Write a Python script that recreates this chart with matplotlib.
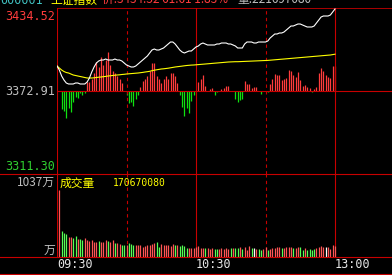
import matplotlib
matplotlib.use("Agg")
import matplotlib.pyplot as plt
from matplotlib.lines import Line2D

# ---- data ----
prev_close = 3372.91
price_top = 3434.52
price_bottom = 3311.30
vol_top = 1037  # 万
vol_total = "170670080"

price = [3391.47, 3388.50, 3384.04, 3381.08, 3378.85, 3378.11, 3378.11, 3378.11, 3378.85, 3378.85,
         3378.11, 3378.11, 3378.11, 3379.59, 3382.56, 3387.01, 3390.73, 3393.69, 3395.18, 3395.92,
         3395.92, 3396.66, 3395.92, 3395.92, 3395.92, 3396.66, 3395.92, 3395.92, 3395.18, 3393.69,
         3392.21, 3391.47, 3390.73, 3390.73, 3391.47, 3392.95, 3394.44, 3395.92, 3397.41, 3398.89,
         3401.12, 3403.34, 3404.09, 3403.34, 3403.34, 3404.09, 3404.83, 3406.31, 3407.80, 3409.28,
         3409.28, 3407.80, 3405.57, 3403.34, 3401.86, 3401.12, 3401.86, 3402.60, 3402.60, 3404.09,
         3405.57, 3406.31, 3407.80, 3408.54, 3407.80, 3407.06, 3407.06, 3407.06, 3407.06, 3407.80,
         3407.80, 3408.54, 3408.54, 3408.54, 3407.80, 3407.80, 3407.06, 3406.31, 3404.83, 3404.83,
         3404.83, 3407.80, 3409.28, 3409.28, 3409.28, 3408.54, 3408.54, 3409.28, 3409.28, 3409.28,
         3409.28, 3410.03, 3412.25, 3413.74, 3415.22, 3415.22, 3415.96, 3415.96, 3416.71, 3418.19,
         3419.67, 3421.16, 3421.16, 3421.90, 3422.64, 3422.64, 3421.90, 3421.16, 3420.42, 3420.42,
         3420.42, 3421.16, 3423.39, 3425.61, 3427.84, 3428.58, 3428.58, 3428.58, 3429.32, 3431.55,
         3433.78]

avg_price = [3391.47, 3389.98, 3388.50, 3387.38, 3386.64, 3386.27, 3385.53, 3384.79, 3384.42, 3384.04,
             3383.67, 3383.30, 3382.93, 3382.56, 3382.56, 3382.56, 3382.71, 3382.93, 3383.15, 3383.30,
             3383.53, 3383.75, 3384.04, 3384.19, 3384.42, 3384.64, 3384.79, 3384.94, 3385.16, 3385.31,
             3385.53, 3385.68, 3385.83, 3385.97, 3386.12, 3386.27, 3386.49, 3386.72, 3387.01, 3387.24,
             3387.53, 3387.98, 3388.35, 3388.65, 3388.94, 3389.24, 3389.39, 3389.61, 3389.83, 3390.13,
             3390.43, 3390.73, 3390.95, 3391.17, 3391.39, 3391.62, 3391.84, 3391.99, 3392.14, 3392.21,
             3392.36, 3392.51, 3392.66, 3392.80, 3392.95, 3393.10, 3393.25, 3393.40, 3393.55, 3393.69,
             3393.84, 3393.99, 3394.14, 3394.29, 3394.44, 3394.51, 3394.59, 3394.66, 3394.66, 3394.73,
             3394.81, 3394.88, 3394.96, 3395.03, 3395.10, 3395.18, 3395.25, 3395.33, 3395.40, 3395.48,
             3395.55, 3395.62, 3395.77, 3395.92, 3396.07, 3396.22, 3396.37, 3396.52, 3396.66, 3396.81,
             3396.96, 3397.11, 3397.26, 3397.41, 3397.56, 3397.70, 3397.85, 3398.00, 3398.15, 3398.30,
             3398.45, 3398.60, 3398.74, 3398.89, 3399.04, 3399.19, 3399.34, 3399.49, 3399.63, 3399.93,
             3400.23]

# red/green lead indicator bars (up positive, down negative)
lead = [0, 0, -18, -20, -27, -17, -21, -11, -6, -7, -2, -4, -2,
        9, 9, 12, 18, 29, 24, 34, 26, 31, 39, 26, 20, 18, 15, 12, 8, 0,
        -4, -12, -11, -15, -8, -4,
        4, 10, 12, 15, 20, 28, 28, 15, 12, 8, 12, 15, 12, 18, 18, 15, 8,
        -4, -16, -25, -17, -22, -10, -4,
        0, 9, 12, 16, 5, 0, 2, 3, -4, -1, 0, 2, 3, 5, 5, 0, 0, -8, -11, -9, -8,
        10, 7, 7, 3, 4, 4, 0, -3, 0, 0, -1,
        7, 12, 17, 16, 16, 11, 12, 13, 21, 20, 16, 14, 19, 11, 5, 6, 4, 3, -1, 2, 4,
        18, 23, 20, 16, 14, 13, 25, 25]

# per-minute volume in 万, and up/down colour code
volume = [837, 325, 300, 287, 250, 250, 237, 262, 225, 225, 212, 237, 212, 200, 212, 187, 187, 200, 187, 187,
          212, 200, 187, 212, 175, 175, 162, 150, 150, 150, 175, 162, 150, 150, 150, 150, 125, 137, 150, 150,
          162, 175, 187, 125, 162, 150, 150, 150, 137, 162, 150, 150, 137, 150, 137, 112, 112, 112, 112, 125,
          137, 112, 112, 112, 112, 100, 112, 100, 100, 100, 112, 100, 112, 100, 112, 112, 112, 112, 125, 100,
          125, 87, 137, 112, 112, 100, 100, 87, 100, 125, 87, 100, 112, 112, 125, 125, 112, 112, 125, 125,
          125, 112, 112, 125, 125, 87, 112, 87, 100, 87, 100, 112, 125, 137, 125, 125, 125, 100, 150, 137]
vol_dir = list("RGGGRRGGRGGRRRRRRGRRRGRRGRRGGRGGGRRRRRRRRRGGRRRRRRGRGGGGRRRR"
               "RRRGRRRGGRRRRRGRGGRGRRRGWRGGRRGRRRRRGRRRRGRRGGRGGGGRRRRWRRRR")

time_labels = ["09:30", "10:30", "13:00"]
time_pos = [0, 60, 120]
grid_solid = [60, 120]
grid_dashed = [30, 90]

# ---- figure ----
W, H = 392, 275
fig = plt.figure(figsize=(W / 100, H / 100), dpi=100, facecolor="black")

RED_LINE = "#c80000"
x0 = 57 / W
span = 556 / W   # whole day (240 min) would reach past the right edge


def fy(py):
    return 1 - py / H


ax_lead = fig.add_axes([x0, fy(174), span, 166 / H])
ax = fig.add_axes([x0, fy(174), span, 166 / H])
ax_vol = fig.add_axes([x0, fy(257), span, 83 / H])

for a in (ax_lead, ax, ax_vol):
    a.set_xlim(0, 240)
    a.axis("off")
ax_lead.set_facecolor("black")
ax.patch.set_alpha(0)

minutes = list(range(len(price)))

# lead bars
ax_lead.set_ylim(-83, 83)
up = [(m, v) for m, v in zip(minutes, lead) if v > 0]
dn = [(m, v) for m, v in zip(minutes, lead) if v < 0]
ax_lead.vlines([m for m, _ in up], 0, [v for _, v in up], color="#ff3c3c", lw=0.9)
ax_lead.vlines([m for m, _ in dn], 0, [v for _, v in dn], color="#10e010", lw=0.9)

# price lines
ax.set_ylim(price_bottom, price_top)
ax.plot(minutes, avg_price, color="#ffff00", lw=0.8, zorder=3)
ax.plot(minutes, price, color="white", lw=0.8, zorder=4)

# volume bars
ax_vol.set_ylim(0, vol_top)
cmap = {"R": "#ff5555", "G": "#55ff55", "W": "#ffffff"}
vx = [m + 1 for m in range(len(volume))]
ax_vol.vlines(vx, 0, volume, color=[cmap[c] for c in vol_dir], lw=0.9)

# grid lines
for a in (ax, ax_vol):
    for g in grid_solid:
        a.axvline(g, color=RED_LINE, lw=0.8, zorder=1)
    for g in grid_dashed:
        a.axvline(g, color=RED_LINE, lw=0.8, ls=(0, (3, 3)), zorder=1)
    a.axvline(0, color=RED_LINE, lw=0.8, zorder=1)
ax.axhline(prev_close, color=RED_LINE, lw=0.8, zorder=1)
ax.axhline(price_top, color=RED_LINE, lw=1.2, zorder=1)

for py in (174, 257, 274):
    fig.add_artist(Line2D([0, 1], [fy(py), fy(py)], transform=fig.transFigure,
                          color=RED_LINE, lw=0.8))

# left scale labels
mono = "DejaVu Sans Mono"
fig.text(55 / W, fy(16), f"{price_top:.2f}", color="#ff3c3c", ha="right", va="center",
         fontsize=8.5, family=mono)
fig.text(55 / W, fy(91.5), f"{prev_close:.2f}", color="#c0c0c0", ha="right", va="center",
         fontsize=8.5, family=mono)
fig.text(55 / W, fy(167), f"{price_bottom:.2f}", color="#30d030", ha="right", va="center",
         fontsize=8.5, family=mono)
cjk = ["Noto Sans CJK SC", "DejaVu Sans Mono"]
fig.text(55 / W, fy(182), f"{vol_top}万", color="#c0c0c0", ha="right", va="center",
         fontsize=8.5, family=cjk)
fig.text(55 / W, fy(250), "万", color="#c0c0c0", ha="right", va="center",
         fontsize=8.5, family=cjk)

fig.text(60 / W, fy(183), "成交量", color="#ffff00", ha="left", va="center",
         fontsize=8.5, family=cjk)
fig.text(113 / W, fy(183), vol_total, color="#ffff00", ha="left", va="center",
         fontsize=7, family=mono)

# time labels
for lab, pos in zip(time_labels, time_pos):
    ax_vol.text(pos, -0.096, lab, transform=ax_vol.get_xaxis_transform(), color="#e8e8e8",
                ha="left", va="center", fontsize=8.5, family=mono)

# header, mostly cut off by the top edge as in the screenshot
hy = fy(3.5)
fig.text(0, hy, "000001", color="#40c0c0", ha="left", va="baseline", fontsize=8.5, family=mono)
fig.text(50 / W, hy, "上证指数", color="#ffff00", ha="left", va="baseline", fontsize=8.5, family=cjk)
fig.text(102 / W, hy, "价:3434.52 61.61 1.83%", color="#ff3c3c", ha="left", va="baseline",
         fontsize=8.5, family=cjk)
fig.text(237 / W, hy, "量:221697080", color="#c0c0c0", ha="left", va="baseline",
         fontsize=8.5, family=cjk)

fig.savefig("out.png", dpi=100, facecolor="black")
